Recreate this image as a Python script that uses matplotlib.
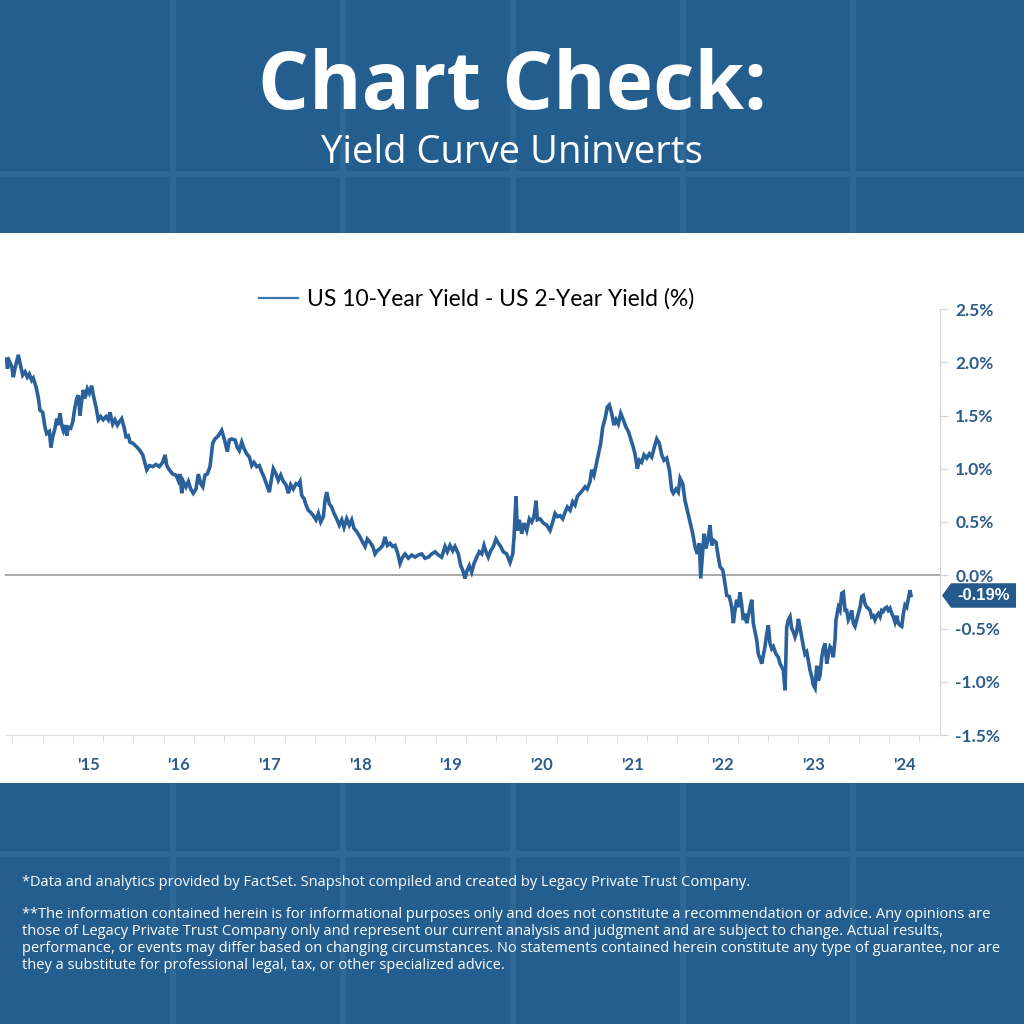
import matplotlib.pyplot as plt
import matplotlib.transforms as mtransforms
from matplotlib.lines import Line2D
from matplotlib.patches import Rectangle, Polygon
import numpy as np

# US 10y - 2y spread (decimal year, %)
t_a = [2014.603, 2014.610, 2014.632, 2014.658, 2014.676, 2014.694, 2014.731, 2014.750, 2014.779, 2014.805,
       2014.830, 2014.852, 2014.879, 2014.896, 2014.926, 2014.951, 2014.970, 2015.000, 2015.025, 2015.044,
       2015.073, 2015.091, 2015.110, 2015.136, 2015.154, 2015.172, 2015.191, 2015.209, 2015.227, 2015.246,
       2015.265, 2015.282, 2015.309, 2015.331, 2015.356, 2015.375, 2015.393, 2015.411, 2015.430, 2015.448,
       2015.466, 2015.492, 2015.514, 2015.540, 2015.558, 2015.588, 2015.613, 2015.640, 2015.668, 2015.698,
       2015.723, 2015.742, 2015.772, 2015.797, 2015.823, 2015.845, 2015.871, 2015.897, 2015.919, 2015.944,
       2015.963, 2015.993, 2016.018, 2016.043, 2016.073, 2016.103, 2016.128, 2016.147, 2016.176, 2016.213,
       2016.250, 2016.286, 2016.323, 2016.349, 2016.368, 2016.396, 2016.434, 2016.470, 2016.495, 2016.514,
       2016.533, 2016.551, 2016.580, 2016.606, 2016.632, 2016.661, 2016.691, 2016.716, 2016.743, 2016.765,
       2016.790, 2016.815, 2016.845, 2016.875, 2016.900, 2016.937, 2016.974, 2016.992, 2017.011, 2017.036,
       2017.058, 2017.084, 2017.121, 2017.146, 2017.168]
v_a = [2.03, 1.94, 2.01, 1.96, 1.86, 1.94, 2.07, 1.99, 1.88, 1.91,
       1.86, 1.89, 1.83, 1.85, 1.77, 1.67, 1.55, 1.53, 1.39, 1.33,
       1.35, 1.20, 1.30, 1.38, 1.47, 1.41, 1.52, 1.41, 1.36, 1.41,
       1.31, 1.39, 1.38, 1.44, 1.58, 1.66, 1.69, 1.50, 1.64, 1.74,
       1.66, 1.75, 1.71, 1.78, 1.69, 1.58, 1.46, 1.49, 1.46, 1.49,
       1.46, 1.53, 1.42, 1.46, 1.41, 1.44, 1.47, 1.39, 1.30, 1.31,
       1.25, 1.24, 1.22, 1.20, 1.17, 1.13, 1.05, 0.99, 1.03, 1.02,
       1.04, 1.02, 1.06, 1.13, 1.03, 0.99, 0.95, 0.94, 0.89, 0.95,
       0.77, 0.88, 0.83, 0.88, 0.81, 0.77, 0.81, 0.95, 0.86, 0.83,
       0.94, 0.95, 1.02, 1.24, 1.28, 1.31, 1.36, 1.31, 1.25, 1.16,
       1.27, 1.28, 1.27, 1.20, 1.17]

t_b = [2017.195, 2017.220, 2017.250, 2017.279, 2017.305, 2017.330, 2017.360, 2017.389, 2017.415, 2017.441,
       2017.470, 2017.499, 2017.526, 2017.543, 2017.573, 2017.598, 2017.625, 2017.654, 2017.683, 2017.709,
       2017.735, 2017.764, 2017.794, 2017.819, 2017.838, 2017.856, 2017.882, 2017.904, 2017.929, 2017.956,
       2017.984, 2018.014, 2018.040, 2018.066, 2018.095, 2018.113, 2018.132, 2018.161, 2018.187, 2018.213,
       2018.242, 2018.271, 2018.298, 2018.323, 2018.353, 2018.381, 2018.408, 2018.433, 2018.463, 2018.499,
       2018.529, 2018.555, 2018.580, 2018.610, 2018.640, 2018.665, 2018.690, 2018.720, 2018.750, 2018.775,
       2018.801, 2018.830, 2018.860, 2018.885, 2018.911, 2018.941, 2018.970, 2018.996, 2019.032, 2019.070,
       2019.106, 2019.142, 2019.180, 2019.216, 2019.253, 2019.290, 2019.327, 2019.363, 2019.400, 2019.437,
       2019.462, 2019.492, 2019.522, 2019.547, 2019.584, 2019.610, 2019.632, 2019.657, 2019.683, 2019.705]
v_b = [1.25, 1.19, 1.14, 1.11, 1.03, 1.06, 1.02, 1.03, 0.97, 0.92,
       0.85, 0.78, 0.92, 1.00, 0.95, 0.89, 0.94, 0.88, 0.85, 0.77,
       0.85, 0.81, 0.86, 0.85, 0.88, 0.75, 0.72, 0.66, 0.61, 0.59,
       0.56, 0.52, 0.58, 0.50, 0.55, 0.70, 0.78, 0.67, 0.64, 0.58,
       0.53, 0.47, 0.52, 0.45, 0.53, 0.47, 0.52, 0.44, 0.41, 0.36,
       0.31, 0.27, 0.34, 0.31, 0.27, 0.20, 0.23, 0.25, 0.28, 0.36,
       0.28, 0.30, 0.27, 0.28, 0.22, 0.11, 0.17, 0.20, 0.16, 0.19,
       0.17, 0.19, 0.20, 0.16, 0.17, 0.20, 0.22, 0.19, 0.17, 0.27,
       0.22, 0.28, 0.23, 0.27, 0.20, 0.09, 0.05, -0.03, 0.05, 0.09]

t_c = [2019.731, 2019.757, 2019.786, 2019.815, 2019.842, 2019.867, 2019.889, 2019.914, 2019.941, 2019.970,
       2019.999, 2020.025, 2020.051, 2020.080, 2020.117, 2020.154, 2020.184, 2020.198, 2020.220, 2020.234,
       2020.256, 2020.283, 2020.308, 2020.338, 2020.367, 2020.393, 2020.418, 2020.441, 2020.455, 2020.485,
       2020.521, 2020.559, 2020.595, 2020.625, 2020.650, 2020.676, 2020.705, 2020.735, 2020.760, 2020.786,
       2020.816, 2020.845, 2020.871, 2020.896, 2020.926, 2020.956, 2020.981, 2021.006, 2021.036, 2021.055,
       2021.080, 2021.102, 2021.128, 2021.154, 2021.176, 2021.202, 2021.227, 2021.249, 2021.275, 2021.301,
       2021.323, 2021.348, 2021.375, 2021.403, 2021.433, 2021.459, 2021.485, 2021.507, 2021.532, 2021.558,
       2021.580, 2021.606, 2021.632, 2021.661, 2021.690, 2021.717, 2021.742, 2021.772, 2021.800, 2021.827,
       2021.852, 2021.882, 2021.911, 2021.937, 2021.955, 2021.985, 2022.010, 2022.029, 2022.058, 2022.084,
       2022.109, 2022.139]
v_c = [0.03, 0.11, 0.17, 0.22, 0.20, 0.28, 0.22, 0.17, 0.23, 0.27,
       0.34, 0.30, 0.27, 0.22, 0.20, 0.12, 0.20, 0.36, 0.74, 0.42,
       0.52, 0.39, 0.49, 0.42, 0.53, 0.50, 0.55, 0.70, 0.52, 0.53,
       0.49, 0.47, 0.42, 0.50, 0.58, 0.55, 0.56, 0.53, 0.59, 0.64,
       0.61, 0.69, 0.66, 0.74, 0.77, 0.80, 0.83, 0.81, 0.88, 0.99,
       0.94, 1.03, 1.14, 1.24, 1.39, 1.47, 1.58, 1.60, 1.52, 1.41,
       1.46, 1.42, 1.52, 1.46, 1.39, 1.35, 1.28, 1.22, 1.14, 1.00,
       1.08, 1.06, 1.13, 1.10, 1.14, 1.11, 1.19, 1.28, 1.24, 1.13,
       1.08, 1.10, 0.99, 0.80, 0.77, 0.81, 0.78, 0.91, 0.86, 0.70,
       0.61, 0.50]

t_d = [2022.169, 2022.194, 2022.219, 2022.242, 2022.257, 2022.279, 2022.293, 2022.315, 2022.341, 2022.360,
       2022.378, 2022.396, 2022.426, 2022.451, 2022.470, 2022.500, 2022.525, 2022.544, 2022.573, 2022.599,
       2022.617, 2022.635, 2022.654, 2022.672, 2022.690, 2022.709, 2022.727, 2022.746, 2022.764, 2022.782,
       2022.801, 2022.820, 2022.837, 2022.856, 2022.875, 2022.892, 2022.911, 2022.930, 2022.948, 2022.966,
       2022.985, 2023.003, 2023.021, 2023.040, 2023.058, 2023.087, 2023.113, 2023.132, 2023.150, 2023.168,
       2023.187, 2023.205, 2023.223, 2023.242, 2023.260, 2023.278, 2023.297, 2023.316, 2023.334, 2023.352,
       2023.371, 2023.389, 2023.407, 2023.426, 2023.444, 2023.462, 2023.481, 2023.499, 2023.518, 2023.536,
       2023.554, 2023.573, 2023.592, 2023.609, 2023.628, 2023.647, 2023.664, 2023.683, 2023.702, 2023.719,
       2023.738, 2023.749, 2023.775, 2023.793, 2023.812, 2023.830, 2023.849, 2023.867, 2023.885, 2023.904,
       2023.922, 2023.940, 2023.959, 2023.977, 2023.995, 2024.014, 2024.033, 2024.050, 2024.069, 2024.088,
       2024.105, 2024.124, 2024.143, 2024.161, 2024.179, 2024.198, 2024.216, 2024.235, 2024.253, 2024.271,
       2024.290, 2024.309, 2024.326, 2024.345, 2024.364, 2024.381, 2024.400, 2024.419, 2024.436, 2024.455,
       2024.474, 2024.492, 2024.510, 2024.529, 2024.547, 2024.565, 2024.576]
v_d = [0.39, 0.27, 0.20, 0.30, -0.03, 0.23, 0.39, 0.25, 0.36, 0.47,
       0.28, 0.33, 0.31, 0.17, 0.08, 0.05, -0.08, -0.19, -0.20, -0.30,
       -0.45, -0.33, -0.23, -0.30, -0.16, -0.28, -0.42, -0.36, -0.45, -0.38,
       -0.30, -0.23, -0.45, -0.53, -0.61, -0.74, -0.78, -0.83, -0.75, -0.67,
       -0.55, -0.47, -0.64, -0.69, -0.67, -0.74, -0.77, -0.83, -0.86, -0.89,
       -1.08, -0.49, -0.42, -0.39, -0.50, -0.53, -0.58, -0.53, -0.41, -0.49,
       -0.58, -0.67, -0.74, -0.72, -0.80, -0.89, -0.95, -1.03, -1.06, -0.85,
       -0.99, -0.94, -0.77, -0.69, -0.64, -0.83, -0.75, -0.67, -0.69, -0.77,
       -0.61, -0.42, -0.30, -0.33, -0.17, -0.16, -0.33, -0.33, -0.42, -0.39,
       -0.33, -0.45, -0.48, -0.42, -0.36, -0.30, -0.20, -0.19, -0.27, -0.30,
       -0.31, -0.33, -0.39, -0.38, -0.42, -0.38, -0.36, -0.39, -0.33, -0.34,
       -0.31, -0.30, -0.33, -0.31, -0.36, -0.39, -0.44, -0.38, -0.45, -0.47,
       -0.48, -0.36, -0.28, -0.30, -0.22, -0.14, -0.19]

years = list(range(2015, 2025))
year_labels = ["'" + str(y)[2:] for y in years]
y_ticks = [-1.5, -1.0, -0.5, 0.0, 0.5, 1.0, 1.5, 2.0, 2.5]
last_value = -0.19

title = "Chart Check:"
subtitle = "Yield Curve Uninverts"
series_name = "US 10-Year Yield - US 2-Year Yield (%)"
note1 = "*Data and analytics provided by FactSet. Snapshot compiled and created by Legacy Private Trust Company."
note2 = ["**The information contained herein is for informational purposes only and does not constitute a recommendation or advice. Any opinions are",
         "those of Legacy Private Trust Company only and represent our current analysis and judgment and are subject to change. Actual results,",
         "performance, or events may differ based on changing circumstances. No statements contained herein constitute any type of guarantee, nor are",
         "they a substitute for professional legal, tax, or other specialized advice."]

bg = '#245e8e'
grid_col = '#2d6897'
line_col = '#2a619a'
tick_col = '#2d5b8a'

t = np.array(t_a + t_b + t_c + t_d)
v = np.array(v_a + v_b + v_c + v_d)

fig = plt.figure(figsize=(10.24, 10.24), dpi=100)
fig.patch.set_facecolor(bg)

def fy(py):
    return 1 - py / 1024

# faint tile grid in the blue background
for px in [173, 343, 513, 683, 853]:
    fig.add_artist(Line2D([px / 1024] * 2, [0, 1], color=grid_col, lw=4.3, zorder=-3))
for py in [174, 854]:
    fig.add_artist(Line2D([0, 1], [fy(py)] * 2, color=grid_col, lw=4.3, zorder=-3))

# white chart panel
fig.add_artist(Rectangle((0, fy(783)), 1, (783 - 233) / 1024, transform=fig.transFigure,
                         facecolor='white', edgecolor='none', zorder=-2))

fig.text(0.5, fy(88), title, ha='center', va='center', color='white',
         fontsize=57.7, fontweight='bold', family='Open Sans')
fig.text(0.5, fy(153), subtitle, ha='center', va='center', color='white',
         fontsize=27.5, family='Open Sans')

ax = fig.add_axes([5 / 1024, fy(735), 935 / 1024, 426 / 1024])
ax.set_facecolor('none')
ax.plot(t, v, color=line_col, lw=2.6, solid_joinstyle='miter', label=series_name, zorder=3)
ax.axhline(0, color='#a3a3a3', lw=1.3, zorder=2)

ax.set_xlim(2014.584, 2024.896)
ax.set_ylim(-1.5, 2.5)

for s in ['top', 'left']:
    ax.spines[s].set_visible(False)
ax.spines['right'].set_color('#d4d4d4')
ax.spines['bottom'].set_color('#e0e0e0')

ax.yaxis.tick_right()
ax.set_yticks(y_ticks)
ax.set_yticklabels([f'{y:.1f}%' for y in y_ticks])
ax.tick_params(axis='y', length=6, color='#d4d4d4', pad=5, labelcolor=tick_col)

ax.set_xticks([y + 0.5 for y in years])
ax.set_xticklabels(year_labels)
ax.set_xticks([y + k / 3 for y in range(2015, 2025) for k in range(3)] + [2014 + 2 / 3], minor=True)
ax.tick_params(axis='x', which='major', length=0, pad=16, labelcolor=tick_col)
ax.tick_params(axis='x', which='minor', length=5, color='#d4d4d4')
for lab in ax.get_xticklabels():
    lab.set_fontfamily('Lato')
    lab.set_fontweight('bold')
    lab.set_fontsize(12)
for lab in ax.get_yticklabels():
    lab.set_fontfamily('Lato')
    lab.set_fontweight('bold')
    lab.set_fontsize(12.5)

leg = ax.legend(loc='center', bbox_to_anchor=(477 / 1024, fy(299)), bbox_transform=fig.transFigure,
                frameon=False, handlelength=1.7, handletextpad=0.4,
                prop={'family': 'Lato', 'size': 16.5})
for h in leg.get_lines():
    h.set_linewidth(1.6)
    h.set_color('#3f77ad')

# last value tag on the right axis
trans = mtransforms.blended_transform_factory(ax.transAxes, ax.transData)
tag = Polygon([(1.0021, last_value), (1.0118, last_value + 0.115), (1.0813, last_value + 0.115),
               (1.0813, last_value - 0.115), (1.0118, last_value - 0.115)],
              closed=True, transform=trans, facecolor='#235a8b', edgecolor='none', clip_on=False, zorder=5)
ax.add_patch(tag)
ax.text(1.0465, last_value, f'{last_value:.2f}%', transform=trans, ha='center', va='center',
        color='white', fontsize=12, fontweight='bold', family='Liberation Sans', zorder=6, clip_on=False)

fig.text(22 / 1024, fy(883), note1, ha='left', va='center', color='white', fontsize=10.5, family='Open Sans')
for i, line in enumerate(note2):
    fig.text(22 / 1024, fy(915 + i * 16.8), line, ha='left', va='center', color='white',
             fontsize=10.5, family='Open Sans')

fig.savefig('out.png', dpi=100, facecolor=fig.get_facecolor())
